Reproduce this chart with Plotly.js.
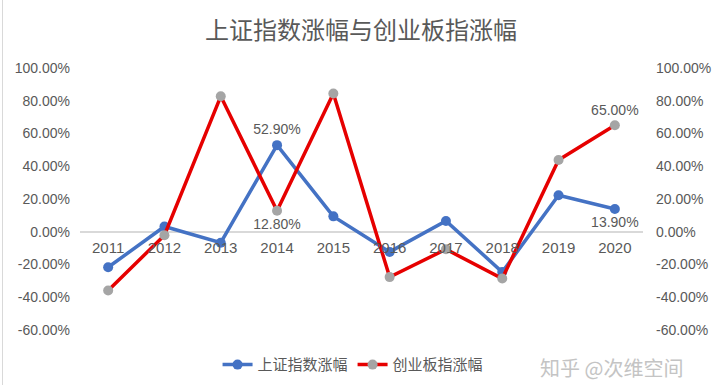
<!DOCTYPE html>
<html>
<head>
<meta charset="utf-8">
<script src="https://cdn.plot.ly/plotly-3.0.1.min.js"></script>
<style>
html,body{margin:0;padding:0;background:#fff;}
#chart{position:absolute;left:2px;top:0;width:716px;height:385px;border:1px solid #d9d9d9;border-top:none;box-sizing:border-box;}
</style>
</head>
<body>
<div id="chart"></div>
<script>
const years = ['2011','2012','2013','2014','2015','2016','2017','2018','2019','2020'];
const shIndex = [-21.7, 3.2, -6.7, 52.9, 9.4, -12.3, 6.6, -24.6, 22.3, 13.9];
const cyIndex = [-35.9, -2.1, 82.7, 12.8, 84.4, -27.7, -10.7, -28.6, 43.8, 65.0];
const shLabels = ['', '', '', '52.90%', '', '', '', '', '', '13.90%'];
const cyLabels = ['', '', '', '12.80%', '', '', '', '', '', '65.00%'];
const shLabelPos = ['top center','top center','top center','top center','top center','top center','top center','top center','top center','bottom center'];
const cyLabelPos = ['top center','top center','top center','bottom center','top center','top center','top center','top center','top center','top center'];
const seriesNames = ['上证指数涨幅', '创业板指涨幅'];
const yTicks = [-60, -40, -20, 0, 20, 40, 60, 80, 100];

const grey = '#595959';
const font = {family: '"Liberation Sans", Arial, "Noto Sans CJK SC", sans-serif', size: 14, color: grey};

const data = [
  {
    x: years, y: shIndex, name: seriesNames[0], type: 'scatter', mode: 'lines+markers+text',
    line: {color: '#4472C4', width: 3.5},
    marker: {color: '#4472C4', size: 10},
    text: shLabels, textposition: shLabelPos,
    textfont: {family: font.family, size: 14, color: grey},
    cliponaxis: false, hoverinfo: 'x+y'
  },
  {
    x: years, y: cyIndex, name: seriesNames[1], type: 'scatter', mode: 'lines+markers+text',
    yaxis: 'y2',
    line: {color: '#E60000', width: 3.5},
    marker: {color: '#A5A5A5', size: 10},
    text: cyLabels, textposition: cyLabelPos,
    textfont: {family: font.family, size: 14, color: grey},
    cliponaxis: false, hoverinfo: 'x+y'
  }
];

const yTickText = yTicks.map(v => v.toFixed(2) + '%');
const range = [yTicks[0], yTicks[yTicks.length - 1]];
const zeroFrac = (0 - range[0]) / (range[1] - range[0]);

const layout = {
  width: 716, height: 385,
  margin: {l: 77, r: 76, t: 68, b: 55, autoexpand: false},
  paper_bgcolor: '#ffffff', plot_bgcolor: '#ffffff',
  font: font,
  title: {
    text: '上证指数涨幅与创业板指涨幅',
    font: {family: '"Noto Sans CJK SC", sans-serif', size: 24, color: grey},
    x: 0.5, xanchor: 'center', y: 0.92, yanchor: 'middle'
  },
  xaxis: {
    type: 'category', anchor: 'free', position: zeroFrac,
    range: [-0.5, years.length - 0.5],
    showgrid: false, showline: false, zeroline: false, ticks: '',
    tickfont: {family: font.family, size: 15, color: grey},
    ticklabelstandoff: 5
  },
  yaxis: {
    range: range, tickvals: yTicks, ticktext: yTickText,
    showgrid: false, zeroline: true, zerolinecolor: '#d9d9d9', zerolinewidth: 1.5,
    showline: false, ticks: '', tickfont: {family: font.family, size: 14, color: grey},
    ticklabelstandoff: 9
  },
  yaxis2: {
    range: range, tickvals: yTicks, ticktext: yTickText, overlaying: 'y', side: 'right',
    showgrid: false, zeroline: false, showline: false, ticks: '',
    tickfont: {family: font.family, size: 14, color: grey},
    ticklabelstandoff: 12
  },
  legend: {
    orientation: 'h', x: 0.485, xanchor: 'center', y: -0.07, yanchor: 'top',
    font: {family: '"Noto Sans CJK SC", sans-serif', size: 15, color: grey},
    itemwidth: 30, traceorder: 'normal', tracegroupgap: 0
  },
  annotations: [{
    text: '知乎 @次维空间', xref: 'paper', yref: 'paper', x: 1.075, xanchor: 'right', y: -0.08, yanchor: 'top',
    showarrow: false, font: {family: '"Noto Sans CJK SC", sans-serif', size: 20, color: '#c4c4c4'}
  }],
  showlegend: true
};

Plotly.newPlot('chart', data, layout, {displayModeBar: false, staticPlot: true});
</script>
</body>
</html>
